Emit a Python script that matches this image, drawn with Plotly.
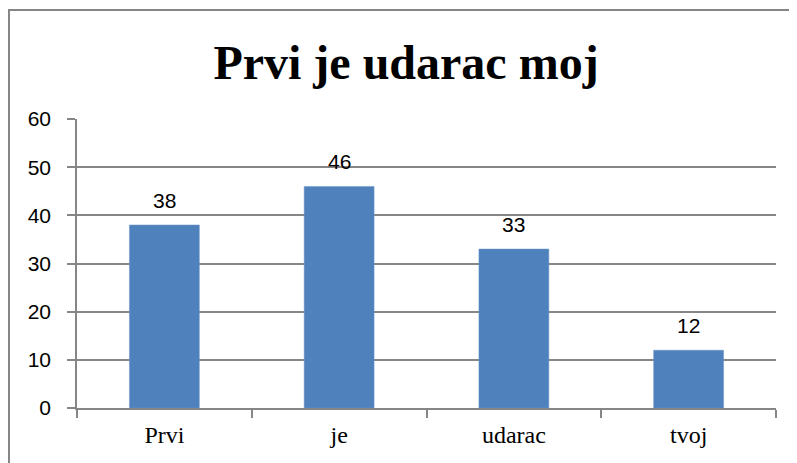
import plotly.graph_objects as go

categories = ["Prvi", "je", "udarac", "tvoj"]
values = [38, 46, 33, 12]
y_ticks = [0, 10, 20, 30, 40, 50, 60]
title_text = "Prvi je udarac moj"

# page body has an 8px margin; figure sized/positioned to compensate
W, H = 789, 455
L, R, T, B = 69, 21, 111, 55
PW, PH = W - L - R, H - T - B

fig = go.Figure()
fig.add_trace(go.Bar(
    x=categories, y=values,
    marker=dict(color="#4F81BD", line=dict(color="#6C95C8", width=0.5)),
    cliponaxis=False,
))

for c, v in zip(categories, values):
    fig.add_annotation(x=c, y=v, text=str(v), showarrow=False,
                       yanchor="bottom", yshift=11,
                       font=dict(family="Liberation Sans, Arial, sans-serif", size=21, color="#000000"))

fig.update_layout(
    width=W, height=H,
    margin=dict(l=L, r=R, t=T, b=B),
    paper_bgcolor="white", plot_bgcolor="white",
    bargap=0.6,
    showlegend=False,
    title=dict(text="<b>" + title_text + "</b>", x=398 / W, xanchor="center",
               y=1 - 54 / H, yanchor="middle",
               font=dict(family="Liberation Serif, serif", size=48, color="#000000")),
    xaxis=dict(
        showgrid=False, showline=True, linecolor="#868686", linewidth=1.5,
        ticks="outside", ticklen=8, tickcolor="#868686", tickwidth=1.5,
        tickson="boundaries",
        tickfont=dict(family="Liberation Serif, serif", size=24, color="#000000"),
        ticklabelstandoff=4,
    ),
    yaxis=dict(
        range=[0, 60], tickvals=y_ticks,
        showgrid=True, gridcolor="#868686", gridwidth=1.5,
        showline=True, linecolor="#868686", linewidth=1.5,
        ticks="outside", ticklen=8, tickcolor="#868686", tickwidth=1.5,
        zeroline=False,
        ticklabelstandoff=12,
        tickfont=dict(family="Liberation Sans, Arial, sans-serif", size=21, color="#000000"),
    ),
    shapes=[dict(type="rect", xref="paper", yref="paper",
                 x0=(1 - L) / PW, x1=(W + 20 - L) / PW, y0=-1.0, y1=1 + (T - 2) / PH,
                 line=dict(color="#868686", width=2), layer="below")],
)

fig.write_html("out.html")
